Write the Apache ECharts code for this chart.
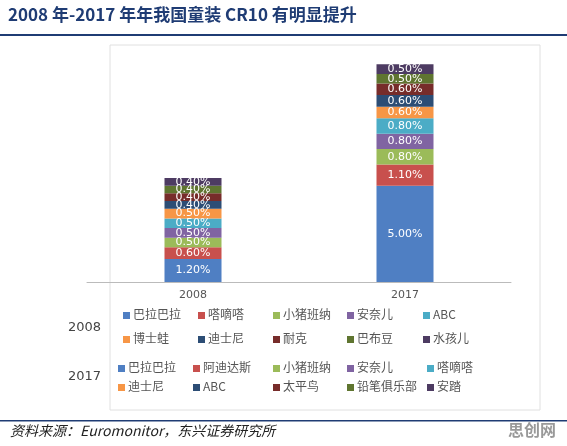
<!DOCTYPE html><html><head><meta charset="utf-8"><script src="https://cdn.jsdelivr.net/npm/echarts@6/dist/echarts.min.js"></script>
<style>body{margin:0}#c{width:567px;height:446px}</style></head><body><div id="c"></div><script>
const categories=['2008','2017'];
const brands2008=['巴拉巴拉','嗒嘀嗒','小猪班纳','安奈儿','ABC','博士蛙','迪士尼','耐克','巴布豆','水孩儿'];
const brands2017=['巴拉巴拉','阿迪达斯','小猪班纳','安奈儿','嗒嘀嗒','迪士尼','ABC','太平鸟','铅笔俱乐部','安踏'];
const values2008=[1.2,0.6,0.5,0.5,0.5,0.5,0.4,0.4,0.4,0.4];
const values2017=[5.0,1.1,0.8,0.8,0.8,0.6,0.6,0.6,0.5,0.5];
const colors=['#4f7fc3','#c8504d','#9bbb59','#8064a2','#4bacc6','#f79646','#2c4d75','#772c2a','#5f7530','#4d3b62'];
const ch=echarts.init(document.getElementById('c'));
const series=values2008.map((v,i)=>({type:'bar',stack:'a',barWidth:57,data:[v,values2017[i]],itemStyle:{color:colors[i]},
 label:{show:true,position:'inside',color:'#fff',fontSize:11,fontFamily:'DejaVu Sans',formatter:p=>p.value.toFixed(2)+'%'}}));
const g=[];
g.push({type:'text',left:8,top:6,style:{text:'2008 年-2017 年年我国童装 CR10 有明显提升',fill:'#1f3c74',font:'bold 17px "Noto Sans CJK SC"'}});
g.push({type:'rect',shape:{x:0,y:34,width:567,height:2},style:{fill:'#1f3c74'}});
g.push({type:'rect',shape:{x:110,y:45,width:430,height:365},style:{fill:'none',stroke:'#e0e0e0'}});
const xs=[123,198,273,347,423];
function row(names,off,y,x0){for(let k=0;k<5;k++){const i=off+k;const x=x0[k];
 g.push({type:'rect',shape:{x:x,y:y-4,width:7,height:7},style:{fill:colors[i]}});
 g.push({type:'text',x:x+10,y:y-8,style:{text:names[i],fill:'#555',font:'12px "Noto Sans CJK SC"'}});}}
row(brands2008,0,316,xs);row(brands2008,5,340,xs);
const xs2=[118,193,273,347,427];
row(brands2017,0,369,xs2);row(brands2017,5,388,xs2);
g.push({type:'text',x:68,y:321,style:{text:'2008',fill:'#444',font:'13px "DejaVu Sans"'}});
g.push({type:'text',x:68,y:370,style:{text:'2017',fill:'#444',font:'13px "DejaVu Sans"'}});
g.push({type:'rect',shape:{x:0,y:420,width:567,height:1.5},style:{fill:'#1f3c74'}});
g.push({type:'text',x:10,y:424,style:{text:'资料来源：Euromonitor，东兴证券研究所',fill:'#222',font:'italic 14px "Noto Sans CJK SC"'}});
g.push({type:'text',x:508,y:422,style:{text:'思创网',fill:'#999',font:'bold 16px "Noto Sans CJK SC"'}});
ch.setOption({animation:false,backgroundColor:'#fff',
 grid:{left:87,right:56,top:45,bottom:164},
 xAxis:{type:'category',data:categories,axisTick:{show:false},axisLine:{lineStyle:{color:'#bbb'}},axisLabel:{color:'#555',fontSize:11,fontFamily:'DejaVu Sans',margin:8}},
 yAxis:{type:'value',min:0,max:12.3,show:false,splitLine:{show:false}},
 series:series,graphic:g});
</script></body></html>
